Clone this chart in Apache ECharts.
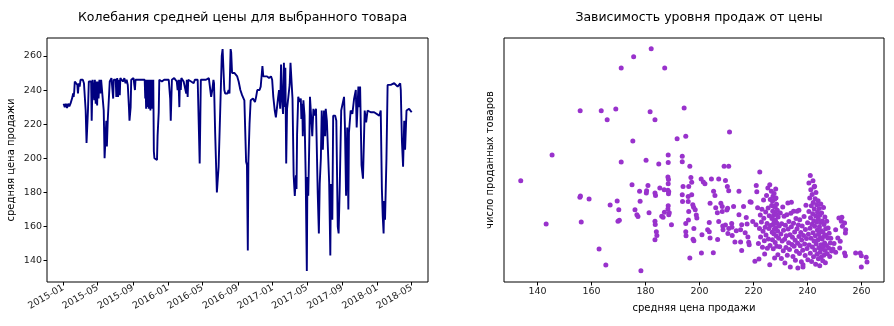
<!DOCTYPE html>
<html>
<head>
<meta charset="utf-8">
<script src="https://cdn.jsdelivr.net/npm/echarts@6/dist/echarts.min.js"></script>
<style>
html,body{margin:0;padding:0;background:#fff;}
#c{width:894px;height:326px;}
</style>
</head>
<body>
<div id="c"></div>
<script>
// ---- data ----
var leftTitle = 'Колебания средней цены для выбранного товара';
var rightTitle = 'Зависимость уровня продаж от цены';
var priceAxisName = 'средняя цена продажи';
var qtyAxisName = 'число проданных товаров';

var dateTicks = ['2015-01','2015-05','2015-09','2016-01','2016-05','2016-09','2017-01','2017-05','2017-09','2018-01','2018-05'];
var priceTicks = [140,160,180,200,220,240,260];

var priceSeries = [
['2015-01-02',232],['2015-01-06',230],['2015-01-10',232],['2015-01-14',229.5],['2015-01-18',232],['2015-01-22',230.5],['2015-01-26',232],['2015-01-30',233],['2015-02-02',236],['2015-02-04',238],['2015-02-06',236],['2015-02-08',239],['2015-02-10',245],['2015-02-13',244],['2015-02-16',246],['2015-02-19',243],['2015-02-21',238],['2015-02-24',244],['2015-02-27',242],['2015-03-02',246],['2015-03-06',245],['2015-03-10',246],['2015-03-14',244],['2015-03-18',245],['2015-03-20',228],['2015-03-23',209],['2015-03-26',210],['2015-03-28',228],['2015-03-31',245],['2015-04-04',246],['2015-04-08',245],['2015-04-10',222],['2015-04-13',246],['2015-04-16',245],['2015-04-19',234],['2015-04-21',246],['2015-04-24',232],['2015-04-26',245],['2015-04-29',231],
['2015-05-01',245],['2015-05-04',235],['2015-05-07',246],['2015-05-10',238],['2015-05-13',246],['2015-05-16',245],['2015-05-19',246],['2015-05-22',228],['2015-05-25',200],['2015-05-27',199],['2015-05-29',200],['2015-05-31',222],['2015-06-02',207],['2015-06-05',222],['2015-06-08',223],['2015-06-12',245],['2015-06-15',246],['2015-06-18',247],['2015-06-22',246],['2015-06-24',235],['2015-06-26',246],['2015-06-30',247],['2015-07-03',246],['2015-07-05',236],['2015-07-08',247],['2015-07-11',236],['2015-07-14',246],['2015-07-17',237],['2015-07-19',247],['2015-07-23',246],['2015-07-28',245],['2015-08-02',247],['2015-08-06',244],['2015-08-10',246],['2015-08-14',243],['2015-08-16',242],['2015-08-18',230],['2015-08-20',222],['2015-08-22',222],['2015-08-24',230],['2015-08-26',246],['2015-08-30',247],
['2015-09-03',247],['2015-09-06',246],['2015-09-08',240],['2015-09-10',246],['2015-09-14',247],['2015-09-18',246],['2015-09-22',245],['2015-09-26',246],['2015-09-30',245],['2015-10-04',246],['2015-10-08',245],['2015-10-12',246],['2015-10-14',235],['2015-10-15',246],['2015-10-17',229],['2015-10-18',246],['2015-10-20',236],['2015-10-21',246],['2015-10-23',230],['2015-10-24',246],['2015-10-26',229],['2015-10-27',245],['2015-10-29',232],['2015-10-30',246],['2015-11-01',228],['2015-11-02',246],['2015-11-04',230],['2015-11-05',245],['2015-11-07',229],['2015-11-08',246],['2015-11-10',229],['2015-11-11',246],['2015-11-13',204],['2015-11-15',200],['2015-11-18',199],['2015-11-21',201],['2015-11-24',199],['2015-11-26',213],['2015-11-28',212],['2015-11-30',227],['2015-12-02',246],['2015-12-07',246],['2015-12-11',245],['2015-12-15',246],['2015-12-19',246],['2015-12-23',245],['2015-12-27',246],['2015-12-31',246],
['2016-01-04',246],['2016-01-09',235],['2016-01-11',222],['2016-01-13',222],['2016-01-15',246],['2016-01-19',246],['2016-01-23',247],['2016-01-27',246],['2016-02-01',245],['2016-02-04',240],['2016-02-07',246],['2016-02-10',230],['2016-02-12',246],['2016-02-15',240],['2016-02-17',247],['2016-02-21',246],['2016-02-25',245],['2016-03-01',246],['2016-03-05',238],['2016-03-07',246],['2016-03-10',236],['2016-03-12',246],['2016-03-17',246],['2016-03-22',245],['2016-03-27',246],['2016-03-31',244],['2016-04-04',246],['2016-04-09',245],['2016-04-14',246],['2016-04-19',246],['2016-04-21',197],['2016-04-23',221],['2016-04-25',246],['2016-04-29',247],
['2016-05-03',246],['2016-05-08',247],['2016-05-13',246],['2016-05-18',246],['2016-05-23',247],['2016-05-28',246],['2016-05-31',236],['2016-06-04',240],['2016-06-08',246],['2016-06-10',244],['2016-06-14',215],['2016-06-20',180],['2016-06-22',185],['2016-06-26',195],['2016-07-02',230],['2016-07-07',260],['2016-07-10',264],['2016-07-12',264],['2016-07-16',240],['2016-07-19',238],['2016-07-23',237],['2016-07-27',238],['2016-07-31',240],['2016-08-03',238],['2016-08-07',264],['2016-08-09',262],['2016-08-12',250],['2016-08-15',249],['2016-08-20',250],['2016-08-25',249],['2016-08-30',248],
['2016-09-04',245],['2016-09-10',240],['2016-09-16',237],['2016-09-24',234],['2016-09-30',198],['2016-10-03',196],['2016-10-06',146],['2016-10-08',198],['2016-10-12',220],['2016-10-16',234],['2016-10-20',235],['2016-10-24',235],['2016-10-31',233],['2016-11-04',236],['2016-11-08',240],['2016-11-12',241],['2016-11-16',240],['2016-11-20',242],['2016-11-24',250],['2016-11-26',254],['2016-11-29',248],['2016-12-05',247],['2016-12-12',248],['2016-12-19',247],['2016-12-26',248],['2016-12-30',246],
['2017-01-03',236],['2017-01-08',228],['2017-01-12',224],['2017-01-16',224],['2017-01-20',236],['2017-01-23',240],['2017-01-27',229],['2017-01-30',255],['2017-02-02',236],['2017-02-06',226],['2017-02-09',256],['2017-02-12',230],['2017-02-14',253],['2017-02-17',197],['2017-02-20',229],['2017-02-25',229],['2017-03-01',243],['2017-03-04',256],['2017-03-09',255],['2017-03-11',235],['2017-03-15',190],['2017-03-19',178],['2017-03-23',190],['2017-03-25',182],['2017-03-27',214],['2017-03-31',236],['2017-04-05',233],['2017-04-09',235],['2017-04-11',223],['2017-04-14',232],['2017-04-16',213],['2017-04-18',234],['2017-04-22',225],['2017-04-26',190],['2017-04-30',134],
['2017-05-02',189],['2017-05-05',178],['2017-05-09',213],['2017-05-11',236],['2017-05-17',237],['2017-05-19',213],['2017-05-23',229],['2017-05-27',225],['2017-06-01',229],['2017-06-07',180],['2017-06-11',156],['2017-06-14',185],['2017-06-18',200],['2017-06-21',228],['2017-06-25',205],['2017-06-29',228],['2017-07-03',213],['2017-07-05',229],['2017-07-09',222],['2017-07-15',222],['2017-07-17',186],['2017-07-21',143],['2017-07-23',185],['2017-07-28',164],['2017-07-31',225],['2017-08-07',225],['2017-08-11',222],['2017-08-16',160],['2017-08-19',156],['2017-08-23',184],['2017-08-25',183],['2017-08-28',228],
['2017-09-07',236],['2017-09-10',219],['2017-09-14',178],['2017-09-18',218],['2017-09-22',170],['2017-09-24',215],['2017-09-30',228],['2017-10-06',226],['2017-10-12',235],['2017-10-18',240],['2017-10-21',218],['2017-10-27',242],['2017-10-29',230],['2017-11-02',242],['2017-11-07',196],['2017-11-12',188],['2017-11-18',228],['2017-11-23',221],['2017-11-28',228],['2017-12-09',227],['2017-12-21',227],['2017-12-27',226],
['2018-01-08',225],['2018-01-11',224],['2018-01-13',228],['2018-01-17',182],['2018-01-20',166],['2018-01-23',156],['2018-01-25',175],['2018-01-28',164],['2018-02-02',200],['2018-02-06',243],['2018-02-17',243],['2018-03-01',244],['2018-03-13',242],['2018-03-22',244],['2018-03-24',240],['2018-03-28',210],['2018-04-01',195],['2018-04-05',222],['2018-04-08',205],['2018-04-13',228],['2018-04-22',229],['2018-05-01',227]
];

var salesPoints = [
[133.8,41.5],[143.2,23.8],[145.4,52.0],[155.8,70.2],[155.7,34.7],[155.9,35.2],[156.2,24.6],[159.1,34.0],[162.8,13.5],[163.6,70.2],[165.3,7.0],[165.8,66.5],[166.9,31.6],[169.0,70.9],[169.5,33.2],[170.1,29.6],[169.8,24.9],[170.3,25.3],[171.0,87.7],[171.0,49.2],[175.0,39.9],[175.3,57.8],[175.6,92.3],[176.1,29.6],[176.8,27.6],[177.2,26.8],[177.8,37.2],[178.0,33.1],[178.3,4.6],[180.2,49.9],[180.3,36.5],[180.4,37.4],[180.9,39.5],[181.3,28.4],[181.7,69.8],[182.1,95.6],[183.5,66.5],[183.5,36.5],[183.7,35.5],[183.5,24.9],[183.6,23.6],[184.0,20.6],[184.2,19.1],[183.5,17.3],[184.9,48.4],[185.3,38.5],[186.0,26.9],[186.5,26.5],[187.0,28.6],[186.9,37.8],[187.1,87.7],
[188.4,52.0],[188.4,49.0],[188.3,43.0],[188.5,42.0],[188.4,40.3],[188.3,37.6],[188.6,37.0],[188.5,36.2],[188.4,31.3],[188.3,29.9],[188.6,27.6],[188.8,28.4],
[189.6,23.5],[191.7,58.7],[193.6,51.5],[193.6,49.3],[193.6,35.8],[193.7,33.0],[193.9,39.1],[194.3,71.3],[194.9,59.7],[194.9,24.0],[194.9,20.6],[195.0,19.0],[195.8,33.0],[195.8,35.0],[196.0,39.1],[196.0,28.9],[195.9,25.4],[196.4,47.4],[196.8,42.8],[197.1,40.9],[197.1,35.8],[196.4,9.8],[197.5,31.7],[197.8,30.6],[198.4,29.6],[198.8,27.5],[199.0,26.2],[197.9,21.9],[197.6,17.5],[197.9,16.9],[200.6,42.2],[200.9,19.4],[200.7,11.9],[201.4,41.0],[202.0,40.3],[203.0,21.4],[203.6,24.4],[203.9,32.3],[203.6,20.6],[203.9,18.0],[204.4,42.2],[205.1,12.0],[205.2,37.2],[205.7,35.5],[206.0,30.4],[206.6,28.4],[206.7,17.4],[207.1,42.2],[207.1,24.8],[207.9,32.3],[208.4,30.9],[208.4,28.9],[208.6,22.9],[208.7,21.4],[209.1,47.4],[209.6,41.6],[210.8,47.4],[210.3,39.1],[210.8,37.4],[209.6,23.4],[210.1,29.5],[210.4,30.2],[210.8,21.9],[210.5,19.9],[211.1,61.5],[211.9,24.0],[212.0,22.4],[212.6,30.9],[212.1,19.1],[213.1,16.4],[213.6,21.0],[214.6,37.2],[214.6,27.6],[215.2,21.4],[215.6,23.5],[215.2,16.4],[215.6,12.9],[216.3,30.9],[216.9,20.2],[217.3,26.4],[217.6,23.8],[217.9,18.4],[218.2,16.3],[218.4,15.3],[218.7,32.9],[219.1,32.7],[219.7,24.8],[220.9,23.5],[220.5,8.5],[221.0,39.5],[221.2,37.0],[221.5,30.4],[221.8,15.8],[222.0,9.4],[222.2,21.9],[222.5,27.5],[222.3,45.1],
[222.6,18.4],[222.9,24.6],[223.1,29.8],[223.3,14.2],[223.5,20.8],[223.7,33.6],[223.8,26.1],[224.0,16.9],[224.1,11.5],[224.3,22.4],[224.5,28.7],[224.6,19.3],[224.8,35.4],[225.0,24.0],[225.1,13.8],[225.3,38.5],[225.4,30.3],[225.5,17.6],[225.7,21.9],[225.8,27.2],[226.0,39.9],[226.0,7.1],[226.1,15.0],[226.2,33.8],[226.3,23.2],
[226.6,37.2],[226.7,31.4],[226.8,26.0],[226.9,20.4],[227.0,33.1],[227.0,17.3],[227.1,29.0],[227.2,35.1],[227.2,23.6],[227.3,13.6],[227.4,31.0],[227.4,27.3],[227.5,19.8],[227.6,36.3],[227.6,24.7],[227.7,21.6],[227.8,9.8],[227.8,33.9],[227.9,28.1],[228.0,16.2],[228.0,30.6],[228.1,25.3],[228.2,38.1],[228.2,22.2],[228.3,34.4],[228.4,18.9],[228.4,27.8],[228.5,31.9],[228.6,14.7],[228.7,24.1],[228.8,29.4],[228.9,20.9],[229.0,11.2],[229.1,26.6],[229.3,17.9],[229.5,23.0],
[229.7,14.4],[229.9,28.3],[230.1,19.7],[230.3,9.6],[230.4,23.9],[230.6,16.8],[230.8,30.7],[231.0,12.8],[231.1,21.2],[231.3,26.9],[231.5,17.5],[231.6,7.8],[231.8,23.3],[232.0,14.1],[232.1,19.0],[232.3,27.6],[232.5,11.0],[232.7,32.4],[232.8,21.7],[233.0,16.1],[233.1,24.8],[233.3,13.3],[233.5,19.4],[233.6,6.1],[233.8,28.2],[234.0,32.7],[234.0,22.6],[234.2,15.4],[234.4,18.3],[234.6,10.4],[234.8,29.0],[234.8,24.1],[235.0,14.7],[235.2,20.5],[235.4,17.1],[235.5,8.9],[235.7,26.0],[235.9,12.6],[236.1,29.0],[236.1,21.8],[236.3,15.9],[236.4,5.7],[236.6,23.4],[236.8,29.4],[236.8,18.6],[237.0,11.7],[237.1,25.5],[237.3,14.9],[237.5,20.3],[237.7,8.3],[237.8,17.2],[238.0,23.0],[238.2,13.0],[238.3,6.1],[238.3,7.1],[238.5,19.1],[238.7,26.8],[238.9,15.6],[239.1,10.9],[239.2,21.5],[239.4,31.5],[239.6,17.8],[239.8,13.7],[240.0,24.3],[240.1,9.1],
[240.3,19.6],[240.5,40.6],[240.5,28.9],[240.6,15.2],[240.8,34.4],[240.9,22.0],[241.0,43.6],[241.0,11.8],[241.1,26.3],[241.2,37.8],[241.3,17.9],[241.4,31.2],[241.5,8.4],[241.6,23.7],[241.7,35.9],[241.8,14.3],[241.9,28.0],[242.0,41.5],[242.0,20.2],[242.1,32.6],[242.2,10.3],[242.3,25.1],[242.4,38.9],[242.4,16.8],[242.5,29.9],[242.6,39.2],[242.6,22.8],[242.7,13.1],[242.8,34.1],[242.9,19.0],[243.0,27.1],[243.0,7.3],[243.1,36.7],[243.2,15.6],[243.3,24.5],[243.4,31.7],[243.5,11.4],[243.6,21.3],[243.7,28.6],[243.8,17.2],[243.9,33.3],[244.0,9.5],[244.0,25.8],[244.1,19.8],[244.2,14.0],[244.3,30.1],[244.4,22.6],[244.5,6.7],[244.5,27.4],[244.6,12.2],[244.7,18.2],[244.8,24.4],[244.9,32.0],[245.0,15.3],[245.0,10.1],[245.1,21.0],[245.2,28.3],[245.3,13.5],[245.4,17.6],[245.5,25.0],[245.6,8.7],[245.7,20.4],[245.8,14.6],[245.9,30.5],[246.0,11.0],[246.1,23.6],[246.2,18.7],[246.3,16.0],[246.4,26.6],[246.5,12.9],[246.6,7.9],[246.7,21.8],[246.8,19.2],[247.0,15.0],[247.1,24.9],[247.3,11.6],[247.5,18.0],[247.6,22.1],[247.8,13.9],[248.0,20.0],[248.2,10.5],[248.4,16.0],[248.6,17.9],[248.9,12.7],[249.4,13.5],[249.8,15.8],
[250.4,21.4],[250.4,12.2],[251.2,18.0],[251.6,26.2],[251.9,13.9],[252.1,16.7],[252.5,24.9],[252.7,26.5],[252.9,22.8],[253.7,24.2],[253.7,11.9],[254.0,10.8],[254.0,20.1],[254.1,21.4],[257.8,11.9],[259.5,11.9],[259.9,10.8],[259.9,6.1],[261.7,10.1],[262.0,8.2]
];

// ---- chart ----
function ts(s){ var p = s.split('-'); return new Date(+p[0], +p[1]-1, p[2] ? +p[2] : 1).getTime(); }
var dateTickValues = dateTicks.map(function(d){ return ts(d); });
var lineData = priceSeries.map(function(r){ return [ts(r[0]), r[1]]; });
var font = 'DejaVu Sans';
var txt = '#222';

var chart = echarts.init(document.getElementById('c'), null, {renderer:'canvas'});
chart.setOption({
  animation:false,
  backgroundColor:'#fff',
  textStyle:{fontFamily:font},
  title:[
    {text:leftTitle, left:237.5, top:6, textAlign:'center', textStyle:{fontFamily:font,fontSize:12.5,fontWeight:'normal',color:'#000'}},
    {text:rightTitle, left:694, top:6, textAlign:'center', textStyle:{fontFamily:font,fontSize:12.5,fontWeight:'normal',color:'#000'}}
  ],
  grid:[
    {left:47, right:466, top:38, bottom:44, show:true, borderColor:'#000', borderWidth:1, backgroundColor:'transparent'},
    {left:504, right:10, top:38, bottom:44, show:true, borderColor:'#000', borderWidth:1, backgroundColor:'transparent'}
  ],
  xAxis:[
    {type:'value', gridIndex:0, min:ts('2014-11-05'), max:ts('2018-06-27'),
     axisLine:{show:false}, splitLine:{show:false},
     axisTick:{show:true, inside:false, length:3.5, lineStyle:{color:'#000'}, customValues:dateTickValues},
     axisLabel:{show:true, rotate:30, fontSize:9.5, color:txt, fontFamily:font, margin:5, customValues:dateTickValues,
       formatter:function(v){ var d=new Date(v); var m=d.getMonth()+1; return d.getFullYear()+'-'+(m<10?'0'+m:m); }}},
    {type:'value', gridIndex:1, min:127.6, max:268.3,
     name:priceAxisName, nameLocation:'middle', nameGap:21, nameTextStyle:{fontFamily:font,fontSize:10,color:'#000'},
     axisLine:{show:false}, splitLine:{show:false},
     axisTick:{show:true, inside:false, length:3.5, lineStyle:{color:'#000'}, customValues:priceTicks},
     axisLabel:{show:true, fontSize:9.5, color:txt, fontFamily:font, margin:5, customValues:priceTicks}}
  ],
  yAxis:[
    {type:'value', gridIndex:0, min:127.5, max:270.5,
     name:priceAxisName, nameLocation:'middle', nameGap:31, nameTextStyle:{fontFamily:font,fontSize:10,color:'#000'},
     axisLine:{show:false}, splitLine:{show:false},
     axisTick:{show:true, inside:false, length:3.5, lineStyle:{color:'#000'}, customValues:priceTicks},
     axisLabel:{show:true, fontSize:9.5, color:txt, fontFamily:font, margin:5, customValues:priceTicks}},
    {type:'value', gridIndex:1, min:0, max:100,
     name:qtyAxisName, nameLocation:'middle', nameGap:9, nameTextStyle:{fontFamily:font,fontSize:10,color:'#000'},
     axisLine:{show:false}, splitLine:{show:false}, axisTick:{show:false}, axisLabel:{show:false}}
  ],
  series:[
    {type:'line', xAxisIndex:0, yAxisIndex:0, data:lineData, showSymbol:false, symbol:'none',
     lineStyle:{color:'#000080', width:1.9}, itemStyle:{color:'#000080'}},
    {type:'scatter', xAxisIndex:1, yAxisIndex:1, data:salesPoints, symbol:'circle', symbolSize:5,
     itemStyle:{color:'#9932CC', opacity:1}}
  ]
});
</script>
</body>
</html>
